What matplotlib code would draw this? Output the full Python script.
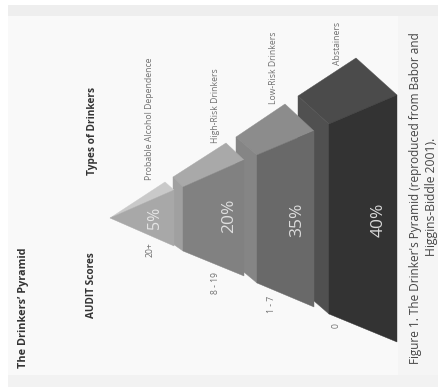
import matplotlib
matplotlib.use("Agg")
import matplotlib.pyplot as plt
from matplotlib.patches import Polygon, Rectangle

# Content of the pyramid, tip to base
drinker_types = ["Probable Alcohol Dependence", "High-Risk Drinkers", "Low-Risk Drinkers", "Abstainers"]
audit_scores = ["20+", "8 - 19", "1 - 7", "0"]
population_pct = [5, 20, 35, 40]

W, H = 438, 387
plt.rcParams["font.family"] = ["Open Sans", "DejaVu Sans"]
fig = plt.figure(figsize=(W / 100, H / 100), dpi=100, facecolor="white")
ax = fig.add_axes([0, 0, 1, 1])
ax.set_xlim(0, W)
ax.set_ylim(H, 0)
ax.axis("off")

# Page background with slightly darker scan margins
ax.add_patch(Rectangle((8, 5), W - 8, H - 5, fc="#f9f9f9", ec="none", zorder=0))
ax.add_patch(Rectangle((8, 5), W - 8, 11, fc="#eeeeee", ec="none", zorder=0.1))
ax.add_patch(Rectangle((8, 375), W - 8, 12, fc="#f2f2f2", ec="none", zorder=0.1))
ax.add_patch(Rectangle((398, 16), W - 398, 359, fc="#f5f5f5", ec="none", zorder=0.1))

# Faces of each tier, drawn from the base towards the tip
tiers = [
    dict(top=[(298, 96), (356, 58), (397, 95), (329, 124)],
         side=[(298, 96), (329, 124), (329, 314), (314, 301), (298, 296)],
         front=[(329, 124), (397, 95), (397, 342), (329, 314)],
         colors=("#4b4b4b", "#505050", "#333333")),
    dict(top=[(236, 137), (285, 104), (314, 131), (257, 155)],
         side=[(236, 137), (257, 155), (257, 283), (245, 273), (236, 268)],
         front=[(257, 155), (314, 131), (314, 307), (257, 283)],
         colors=("#8c8c8c", "#858585", "#696969")),
    dict(top=[(173, 177), (226, 143), (244, 160), (183, 187)],
         side=[(173, 177), (183, 187), (183, 251), (173, 244)],
         front=[(183, 187), (244, 160), (244, 276), (183, 251)],
         colors=("#a9a9a9", "#a0a0a0", "#818181")),
    dict(top=[(110, 218), (165, 182), (174, 190)],
         front=[(110, 218), (174, 190), (174, 246)],
         colors=("#c9c9c9", "#a8a8a8")),
]
for z, tier in enumerate(tiers, start=1):
    faces = [f for f in ("top", "side", "front") if f in tier]
    for face, color in zip(faces, tier["colors"]):
        ax.add_patch(Polygon(tier[face], closed=True, fc=color, ec=color, lw=0.3, zorder=z))


def vtext(x, y, s, size, color="#555555", weight="normal", zorder=10):
    ax.text(x, y, s, rotation=90, ha="center", va="center", fontsize=size,
            color=color, fontweight=weight, zorder=zorder)


# Percentages on the tier fronts
pct_x = [155, 229, 297, 379]
pct_y = [218, 216, 220, 220]
pct_size = [11.5, 12.5, 12.5, 12.5]
pct_color = ["#e4e4e4", "#dedede", "#dcdcdc", "#d8d8d8"]
for x, y, s, c, p in zip(pct_x, pct_y, pct_size, pct_color, population_pct):
    vtext(x, y, f"{p}%", s, color=c, weight="medium")

# Tier names above and score ranges below the pyramid
name_x = [150, 215, 273, 337]
name_y = [119, 106, 68, 43]
for x, y, s in zip(name_x, name_y, drinker_types):
    vtext(x, y, s, 6.2, color="#707070")

score_x = [150, 215, 272, 336]
score_y = [250, 283, 304, 326]
for x, y, s in zip(score_x, score_y, audit_scores):
    vtext(x, y, s, 6.2, color="#707070")

# Headings and caption
vtext(92, 131, "Types of Drinkers", 7.3, color="#333333", weight="bold")
vtext(92, 285, "AUDIT Scores", 7.2, color="#333333", weight="bold")
vtext(24, 308, "The Drinkers\u2019 Pyramid", 7.8, color="#333333", weight="bold")
vtext(415, 198, "Figure 1. The Drinker's Pyramid (reproduced from Babor and", 8.5, color="#444444")
vtext(431, 197, "Higgins-Biddle 2001).", 8.7, color="#444444")

fig.savefig("out.png", dpi=100, facecolor="white")
